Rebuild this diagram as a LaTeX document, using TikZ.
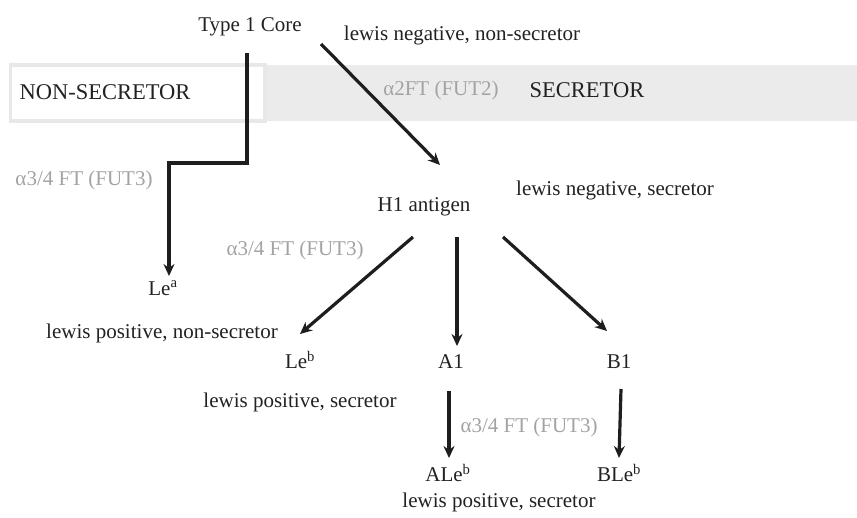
\documentclass[tikz,border=0pt]{standalone}
\usepackage{fontspec}
\setmainfont{Liberation Serif}
\usetikzlibrary{arrows.meta}
\definecolor{txt}{HTML}{222222}
\definecolor{enz}{HTML}{A3A3A3}
\definecolor{band}{HTML}{EBEBEB}
\definecolor{bord}{HTML}{E8E8E8}
\definecolor{arr}{HTML}{1E1E1E}
\begin{document}
\begin{tikzpicture}[x=1pt,y=-1pt,
  lbl/.style={font=\fontsize{21}{24}\selectfont, text=txt, inner sep=0pt},
  enzl/.style={lbl, text=enz},
  conn/.style={draw=arr, line width=3.2pt, -{Stealth[length=12pt,width=11pt]}},
]
\useasboundingbox[fill=white] (0,0) rectangle (857,517);
\fill[band] (265,65) rectangle (857,121);
\draw[bord, line width=3.5pt, fill=white] (10.5,65) rectangle (265,121);

\node[lbl] (t1) at (250,27) {Type 1 Core};
\node[lbl] (lnn) at (462,35) {lewis negative, non-secretor};
\node[lbl, font=\fontsize{22.5}{24}\selectfont] (ns) at (105,92) {NON-SECRETOR};
\node[enzl] (fut2) at (441,90) {α2FT (FUT2)};
\node[lbl, font=\fontsize{22.5}{24}\selectfont] (sec) at (587,90) {SECRETOR};
\node[enzl] (fut3a) at (84,180) {α3/4 FT (FUT3)};
\node[lbl] (lea) at (163,288) {Le\textsuperscript{a}};
\node[lbl] (lpn) at (162,333) {lewis positive, non-secretor};
\node[lbl] (h1) at (424,207) {H1 antigen};
\node[lbl] (lns) at (615,190) {lewis negative, secretor};
\node[enzl] (fut3b) at (295,250) {α3/4 FT (FUT3)};
\node[lbl] (leb) at (300,360) {Le\textsuperscript{b}};
\node[lbl] (lps1) at (300,402) {lewis positive, secretor};
\node[lbl] (a1) at (451,362) {A1};
\node[lbl] (b1) at (619,362) {B1};
\node[enzl] (fut3c) at (529,427) {α3/4 FT (FUT3)};
\node[lbl] (aleb) at (448,473) {ALe\textsuperscript{b}};
\node[lbl] (bleb) at (619,473) {BLe\textsuperscript{b}};
\node[lbl] (lps2) at (499,502) {lewis positive, secretor};

\coordinate (t1s) at (247,53);
\coordinate (t1d) at (321,44);
\coordinate (leaN) at (169,276);
\coordinate (h1N) at (440,165);
\coordinate (h1a) at (413,237);
\coordinate (h1b) at (457,237);
\coordinate (h1c) at (503,237);
\coordinate (lebN) at (300,334);
\coordinate (a1N) at (457,346);
\coordinate (b1N) at (607,331);
\coordinate (a1S) at (449,391);
\coordinate (alebN) at (449,458);
\coordinate (b1S) at (621,389);
\coordinate (blebN) at (619,458);

\draw[conn] (t1s) -- (247,163) -- (169,163) -- (leaN);
\draw[conn] (t1d) -- (h1N);
\draw[conn] (h1a) -- (lebN);
\draw[conn] (h1b) -- (a1N);
\draw[conn] (h1c) -- (b1N);
\draw[conn] (a1S) -- (alebN);
\draw[conn] (b1S) -- (blebN);
\end{tikzpicture}
\end{document}
